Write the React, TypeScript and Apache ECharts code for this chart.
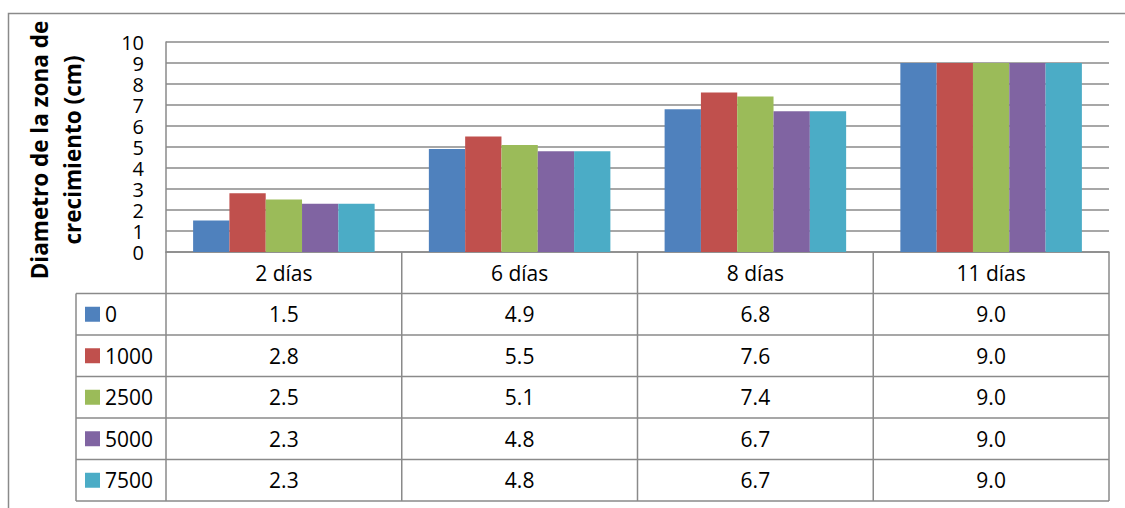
import React, { useEffect, useRef } from "react";
import * as echarts from "echarts";

const categories = ["2 días", "6 días", "8 días", "11 días"];
const seriesNames = ["0", "1000", "2500", "5000", "7500"];
const values0 = [1.5, 4.9, 6.8, 9.0];
const values1000 = [2.8, 5.5, 7.6, 9.0];
const values2500 = [2.5, 5.1, 7.4, 9.0];
const values5000 = [2.3, 4.8, 6.7, 9.0];
const values7500 = [2.3, 4.8, 6.7, 9.0];
const seriesValues = [values0, values1000, values2500, values5000, values7500];
const colors = ["#4F81BD", "#C0504D", "#9BBB59", "#8064A2", "#4BACC6"];
const yTitle = "Diametro de la zona de\ncrecimiento (cm)";

const FONT = "Open Sans";
const LINE = "#8a8a8a";
const GRID = { left: 166, top: 42, width: 943, height: 210 };
const ROW_H = 41.5;
const LEG_LEFT = 76;
const LEG_LH = 24;

export default function App() {
  const ref = useRef<HTMLDivElement>(null);
  useEffect(() => {
    const chart = echarts.init(ref.current!, null, { renderer: "svg" });
    const gridBottom = GRID.top + GRID.height;
    const option: any = {
      animation: false,
      backgroundColor: "#fff",
      color: colors,
      grid: { ...GRID, containLabel: false },
      legend: {
        orient: "vertical",
        left: 85,
        top: gridBottom + ROW_H + (ROW_H - LEG_LH) / 2,
        padding: 0,
        itemGap: ROW_H - LEG_LH,
        itemWidth: 15,
        itemHeight: 15,
        icon: "rect",
        data: seriesNames,
        textStyle: { fontFamily: FONT, fontSize: 21, lineHeight: LEG_LH, color: "#000" },
      },
      xAxis: {
        type: "category",
        data: categories,
        axisLine: { show: true, lineStyle: { color: LINE, width: 1.5 } },
        axisTick: { show: false },
        axisLabel: {
          fontFamily: FONT,
          fontSize: 21,
          color: "#000",
          margin: ROW_H / 2,
          verticalAlign: "middle",
        },
      },
      yAxis: {
        type: "value",
        min: 0,
        max: 10,
        interval: 1,
        axisLine: { show: true, lineStyle: { color: LINE, width: 1.5 } },
        axisTick: { show: false },
        splitLine: { show: true, lineStyle: { color: LINE, width: 1.5 } },
        axisLabel: { fontFamily: FONT, fontSize: 20, lineHeight: 20, color: "#000", margin: 22 },
      },
      series: seriesNames.map((name, i) => ({
        name,
        type: "bar",
        data: seriesValues[i],
        barGap: "0%",
        barCategoryGap: "23%",
        itemStyle: { color: colors[i] },
      })),
    };
    chart.setOption(option);

    const centers = categories.map((_, i) => chart.convertToPixel({ xAxisIndex: 0 }, i) as number);
    const band = centers.length > 1 ? centers[1] - centers[0] : GRID.width;
    const xLeft = centers[0] - band / 2;
    const xRight = centers[centers.length - 1] + band / 2;
    const rows = seriesNames.length;
    const tableBottom = gridBottom + ROW_H * (rows + 1);
    const lineStyle = { stroke: LINE, lineWidth: 1.5 };
    const g: any[] = [];
    g.push({
      type: "rect",
      silent: true,
      shape: { x: 8.5, y: 13.5, width: 1300, height: 700 },
      style: { fill: "none", stroke: LINE, lineWidth: 1.5 },
    });
    for (let r = 1; r <= rows + 1; r++) {
      const y = gridBottom + ROW_H * r;
      g.push({ type: "line", silent: true, shape: { x1: LEG_LEFT, y1: y, x2: xRight, y2: y }, style: lineStyle });
    }
    g.push({ type: "line", silent: true, shape: { x1: LEG_LEFT, y1: gridBottom + ROW_H, x2: LEG_LEFT, y2: tableBottom }, style: lineStyle });
    for (let c = 0; c <= categories.length; c++) {
      const x = xLeft + band * c;
      g.push({ type: "line", silent: true, shape: { x1: x, y1: gridBottom, x2: x, y2: tableBottom }, style: lineStyle });
    }
    seriesValues.forEach((vals, r) => {
      const y = gridBottom + ROW_H * (r + 1.5);
      vals.forEach((v, c) => {
        g.push({
          type: "text",
          silent: true,
          x: centers[c],
          y,
          style: {
            text: v.toFixed(1),
            fontFamily: FONT,
            fontSize: 21,
            fill: "#000",
            align: "center",
            verticalAlign: "middle",
          },
        });
      });
    });
    g.push({
      type: "text",
      silent: true,
      x: 56,
      y: 150,
      rotation: Math.PI / 2,
      style: {
        text: yTitle,
        fontFamily: FONT,
        fontWeight: "bold",
        fontSize: 22.5,
        lineHeight: 33,
        fill: "#000",
        align: "center",
        verticalAlign: "middle",
      },
    });
    chart.setOption({ graphic: g });
    return () => chart.dispose();
  }, []);
  return (
    <div
      ref={ref}
      style={{ position: "fixed", left: 0, top: 0, width: 1125, height: 508, background: "#fff" }}
    />
  );
}
